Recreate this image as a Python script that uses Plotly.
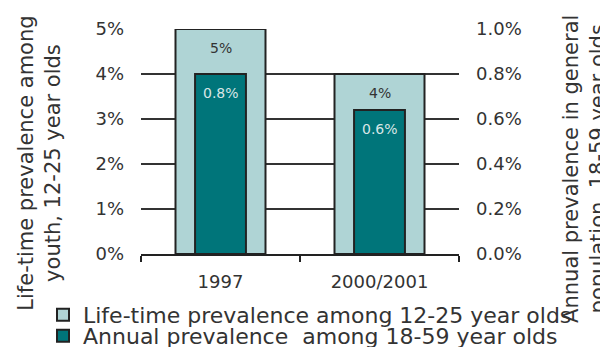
import plotly.graph_objects as go
from plotly.subplots import make_subplots

categories = ["1997", "2000/2001"]
lifetime_youth = [0.05, 0.04]          # left axis, 12-25 year olds
annual_general = [0.008, 0.0064]       # right axis, 18-59 year olds
lifetime_labels = ["5%", "4%"]
annual_labels = ["0.8%", "0.6%"]

left_ticks = [0, 0.01, 0.02, 0.03, 0.04, 0.05]
right_ticks = [0, 0.002, 0.004, 0.006, 0.008, 0.010]

LIGHT = "#AFD4D5"
DARK = "#00757A"
EDGE = "#222222"
TXT = "#333333"
FONT = "DejaVu Sans"

W, H = 600, 339   # page body has an 8px margin in the 608x347 window

fig = make_subplots(specs=[[{"secondary_y": True}]])

fig.add_trace(go.Bar(
    x=categories, y=lifetime_youth, width=0.566,
    name="Life-time prevalence among 12-25 year olds",
    marker=dict(color=LIGHT, line=dict(color=EDGE, width=2)),
    legend="legend",
), secondary_y=False)

fig.add_trace(go.Bar(
    x=categories, y=annual_general, width=0.32,
    name="Annual prevalence \u00a0among 18-59 year olds",
    marker=dict(color=DARK, line=dict(color=EDGE, width=2)),
    legend="legend2",
), secondary_y=True)

annotations = []
for i, (v, t) in enumerate(zip(lifetime_youth, lifetime_labels)):
    annotations.append(dict(x=i, y=v, xref="x", yref="y", text=t, showarrow=False,
                            yanchor="top", yshift=-9, font=dict(size=14, color=TXT, family=FONT)))
for i, (v, t) in enumerate(zip(annual_general, annual_labels)):
    annotations.append(dict(x=i, y=v, xref="x", yref="y2", text=t, showarrow=False,
                            yanchor="top", yshift=-9, font=dict(size=14, color="#D8E6E6", family=FONT)))

annotations.append(dict(text="Life-time prevalence among<br>youth, 12-25 year olds",
                        xref="paper", yref="paper", x=-0.322, y=0.404, textangle=-90,
                        showarrow=False, xanchor="center", yanchor="middle",
                        font=dict(size=21, color=TXT, family=FONT)))
annotations.append(dict(text="Annual prevalence in general<br>population, 18-59 year olds",
                        xref="paper", yref="paper", x=1.396, y=0.378, textangle=-90,
                        showarrow=False, xanchor="center", yanchor="middle",
                        font=dict(size=21, color=TXT, family=FONT)))

legend_common = dict(xref="container", yref="container", x=35 / W,
                     xanchor="left", yanchor="middle",
                     font=dict(size=22, color=TXT, family=FONT),
                     borderwidth=0)

fig.update_layout(
    width=W, height=H,
    margin=dict(l=133, r=149, t=21, b=93, autoexpand=False),
    paper_bgcolor="white", plot_bgcolor="white",
    barmode="overlay",
    font=dict(family=FONT, color=TXT),
    annotations=annotations,
    showlegend=True,
    legend=dict(y=(H - 307) / H, bgcolor="white", **legend_common),
    legend2=dict(y=(H - 328) / H, bgcolor="rgba(255,255,255,0)", **legend_common),
)

fig.update_xaxes(
    type="category", range=[-0.5, 1.5], domain=[0, 1],
    showline=True, linecolor=EDGE, linewidth=2,
    ticks="outside", tickson="boundaries", ticklen=6, tickcolor=EDGE, tickwidth=2,
    ticklabelstandoff=10,
    tickfont=dict(size=18, color=TXT, family=FONT),
    showgrid=False, zeroline=False,
)
fig.update_yaxes(
    range=[0, 0.05], tickvals=left_ticks, tickformat=".0%",
    showgrid=True, gridcolor="#333333", gridwidth=2,
    zeroline=False, showline=False, ticks="",
    ticklabelstandoff=16,
    tickfont=dict(size=18, color=TXT, family=FONT),
    secondary_y=False,
)
fig.update_yaxes(
    range=[0, 0.010], tickvals=right_ticks, tickformat=".1%",
    showgrid=False, zeroline=False, showline=False, ticks="",
    ticklabelstandoff=16,
    tickfont=dict(size=18, color=TXT, family=FONT),
    secondary_y=True,
)

fig.write_html("out.html")
